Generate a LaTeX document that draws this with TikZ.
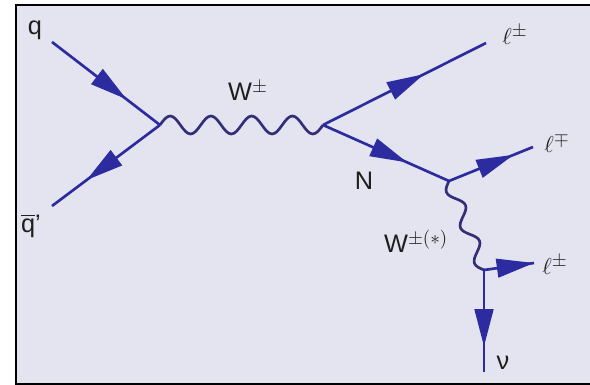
\documentclass[tikz,border=0pt]{standalone}
\usepackage{fontspec}
\setmainfont{Liberation Sans}
\usetikzlibrary{decorations.markings,arrows.meta}
\definecolor{bg}{RGB}{228,228,240}
\definecolor{lc}{RGB}{44,44,160}
\definecolor{wc}{RGB}{50,46,120}
\definecolor{tc}{RGB}{30,30,30}
\begin{document}
\begin{tikzpicture}[x=0.75pt,y=-0.75pt,
  fermion/.style={draw=lc, line width=2pt,
    postaction={decorate, decoration={markings,
      mark=at position #1 with {\arrow[lc]{Triangle[length=28pt,width=14pt]}}}}},
  boson/.style={draw=wc, line width=2pt, line join=round},
  lbl/.style={text=tc, inner sep=0pt, font=\fontsize{19}{21}\selectfont}
]
\useasboundingbox (0,0) rectangle (590,385);
\clip (0,0) rectangle (590,385);
\fill[white] (0,0) rectangle (590,385);
\draw[fill=bg, line width=1.6pt] (16,5) rectangle (600,384);

% vertices and free ends
\coordinate (v1) at (160,125);
\coordinate (v2) at (323,125);
\coordinate (v3) at (449,181);
\coordinate (v4) at (484,270);
\coordinate (qin) at (52,42);
\coordinate (qbar) at (52,206);
\coordinate (l1) at (486,43);
\coordinate (l2) at (533,147);
\coordinate (l3) at (534,263);
\coordinate (nu) at (484,372);

% W propagator (4 periods from v1 to v2)
\draw[boson] (v1) \foreach \i in {1,...,4} {
   sin ++(10.1875,-9) cos ++(10.1875,9) sin ++(10.1875,9) cos ++(10.1875,-9)};
% W(*) propagator from v3 to v4 (2.5 periods)
\begin{scope}[shift={(v3)}, rotate=-68.5]
\draw[boson] (0,0) \foreach \i in {1,2} {
   sin ++(9.56,6.5) cos ++(9.56,-6.5) sin ++(9.56,-6.5) cos ++(9.56,6.5)}
   sin ++(9.56,6.5) cos ++(9.56,-6.5);
\end{scope}

% fermion lines
\draw[fermion=0.69] (qin) -- (v1);
\draw[fermion=0.68] (v1) -- (qbar);
\draw[fermion=0.62] (v2) -- (l1);
\draw[fermion=0.67] (v2) -- (v3);
\draw[fermion=0.77] (v3) -- (l2);
\draw[fermion=1.0] (v4) -- (l3);
\draw[fermion=0.75] (v4) -- (nu);

% labels
\node[lbl] (tq) at (35,30) {q};
\node[lbl] (tqb) at (31,226) {{\setbox0\hbox{q}\rlap{\raisebox{\dimexpr\ht0+2pt\relax}{\rule{\wd0}{1pt}}}q}’};
\node[lbl] (tw) at (248,91) {W$^{\pm}$};
\node[lbl] (tl1) at (515,35) {$\ell^{\pm}$};
\node[lbl] (tn) at (364,181) {N};
\node[lbl] (tl2) at (557,143) {$\ell^{\mp}$};
\node[lbl] (tw2) at (416,241) {W$^{\pm(*)}$};
\node[lbl] (tl3) at (555,265) {$\ell^{\pm}$};
\node[lbl] (tnu) at (503,363) {ν};
\end{tikzpicture}
\end{document}
